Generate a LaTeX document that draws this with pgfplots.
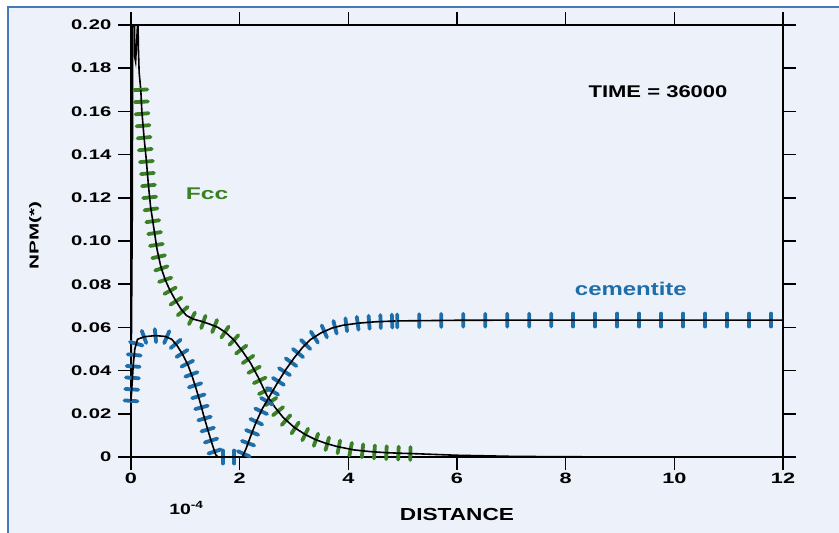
\documentclass[border=0pt]{standalone}
\usepackage{pgfplots}
\pgfplotsset{compat=1.18}
\usepackage{pgfplotstable}
\usepackage{fontspec}
\setmainfont{Liberation Sans}
\newfontfamily\widefont{Liberation Sans}[FakeStretch=1.45]
\newfontfamily\labelfont{Liberation Sans}[FakeStretch=1.3]
\newfontfamily\ylabfont{Liberation Sans}[FakeStretch=1.6]
\usetikzlibrary{decorations.markings}

\definecolor{bgpanel}{RGB}{237,241,250}
\definecolor{frameblue}{RGB}{70,120,190}
\definecolor{fccgreen}{RGB}{58,128,36}
\definecolor{cemblue}{RGB}{30,110,170}

% short bars drawn across a curve, perpendicular to it
\tikzset{
  ticked/.style 2 args={
    preaction={decorate},
    decoration={markings,
      mark=between positions 0 and 1 step #2 with
        {\draw[#1, line width=3.8bp, line cap=round] (0,-6.5bp) -- (0,6.5bp);}}},
}

% Fcc: steep start near the interface (no bars)
\pgfplotstableread{
x y
0.000 0.026
0.025 0.120
0.030 0.200
0.065 0.200
0.070 0.185
0.085 0.183
0.120 0.200
0.130 0.200
0.135 0.190
0.150 0.178
0.180 0.170
}\fccstart

% Fcc: barred part
\pgfplotstableread{
x y
0.18 0.170
0.20 0.160
0.24 0.148
0.28 0.138
0.32 0.126
0.36 0.116
0.42 0.106
0.48 0.096
0.55 0.088
0.63 0.082
0.72 0.077
0.82 0.0725
0.92 0.0685
1.02 0.0655
1.15 0.0638
1.30 0.0628
1.45 0.0615
1.60 0.0600
1.75 0.0575
1.90 0.0540
2.05 0.0490
2.20 0.0435
2.35 0.0365
2.50 0.0285
2.65 0.0230
2.80 0.0183
3.00 0.0138
3.20 0.0105
3.40 0.0080
3.60 0.0062
3.80 0.0048
4.10 0.0033
4.40 0.0025
4.70 0.0020
5.00 0.0017
5.15 0.0016
}\fccbar

% Fcc: tail
\pgfplotstableread{
x y
5.15 0.0016
6.00 0.0008
7.00 0.0003
8.00 0.0001
12.00 0.0000
}\fcctail

% cementite: barred part up to the plateau
\pgfplotstableread{
x y
0.00 0.026
0.02 0.034
0.04 0.042
0.07 0.050
0.12 0.0545
0.25 0.0557
0.45 0.0562
0.63 0.0558
0.75 0.0545
0.85 0.0515
0.95 0.0475
1.05 0.0425
1.13 0.0370
1.20 0.0315
1.27 0.0255
1.34 0.0190
1.42 0.0120
1.50 0.0055
1.56 0.0010
1.60 0.0000
2.05 0.0000
2.12 0.0040
2.20 0.0095
2.30 0.0160
2.42 0.0225
2.56 0.0285
2.70 0.0345
2.85 0.0405
3.00 0.0458
3.15 0.0505
3.30 0.0543
3.50 0.0575
3.70 0.0597
3.90 0.0610
4.20 0.0620
4.50 0.0626
4.90 0.0630
}\cemrise

% cementite: plateau
\pgfplotstableread{
x y
4.90 0.0630
6.00 0.0633
8.00 0.0634
10.00 0.0634
12.00 0.0634
}\cemflat

\begin{document}
\begin{tikzpicture}
\fill[white] (0bp,0bp) rectangle (839bp,533bp);
\fill[bgpanel] (8bp,0bp) rectangle (839bp,526bp);
\draw[frameblue, line width=1.6bp] (8bp,0bp) -- (8bp,526bp) -- (839bp,526bp);
\begin{axis}[
  at={(131bp,76bp)}, anchor=south west,
  scale only axis, width=652bp, height=432bp,
  xmin=0, xmax=12, ymin=0, ymax=0.2,
  clip=false,
  xtick={0,2,4,6,8,10,12},
  ytick={0,0.02,0.04,0.06,0.08,0.10,0.12,0.14,0.16,0.18,0.20},
  yticklabels={0,0.\kern1bp02,0.\kern1bp04,0.\kern1bp06,0.\kern1bp08,0.\kern1bp10,0.\kern1bp12,0.\kern1bp14,0.\kern1bp16,0.\kern1bp18,0.\kern1bp20},
  xticklabels={0,2,4,6,8,10,12},
  tick align=outside,
  major tick length=13bp,
  tick style={black, line width=1.5bp},
  axis line style={black, line width=1.8bp},
  yticklabel style={xshift=-3bp, font=\widefont\bfseries\fontsize{14}{16}\selectfont},
  xticklabel style={font=\widefont\bfseries\fontsize{15}{17}\selectfont},
  xlabel={DISTANCE},
  xlabel style={at={(axis description cs:0.5,-0.134)}, anchor=center,
                font=\labelfont\bfseries\fontsize{17.5}{19}\selectfont},
  ylabel={NPM(*)},
  ylabel style={at={(axis description cs:-0.147,0.512)}, anchor=center, rotate=0,
                font=\ylabfont\bfseries\fontsize{13}{15}\selectfont},
]
\addplot[black, line width=1.6bp] table {\fccstart};
\addplot[black, line width=1.6bp, ticked={fccgreen}{12bp}] table {\fccbar};
\addplot[black, line width=1.6bp] table {\fcctail};
\addplot[black, line width=1.6bp, ticked={cemblue}{11.5bp}] table {\cemrise};
\addplot[black, line width=1.6bp, ticked={cemblue}{22bp}] table {\cemflat};

\node[font=\labelfont\bfseries\fontsize{17}{19}\selectfont] at (axis cs:9.7,0.169) {TIME = 36000};
\node[text=fccgreen, font=\widefont\bfseries\fontsize{17}{19}\selectfont] at (axis cs:1.40,0.122) {Fcc};
\node[text=cemblue, font=\labelfont\bfseries\fontsize{18.5}{20}\selectfont] at (axis cs:9.2,0.078) {cementite};
\node[font=\labelfont\bfseries\fontsize{15}{17}\selectfont] at (axis description cs:0.085,-0.118) {10\textsuperscript{-4}};
\end{axis}
\pgfresetboundingbox
\path (0bp,0bp) rectangle (839bp,533bp);
\end{tikzpicture}
\end{document}
